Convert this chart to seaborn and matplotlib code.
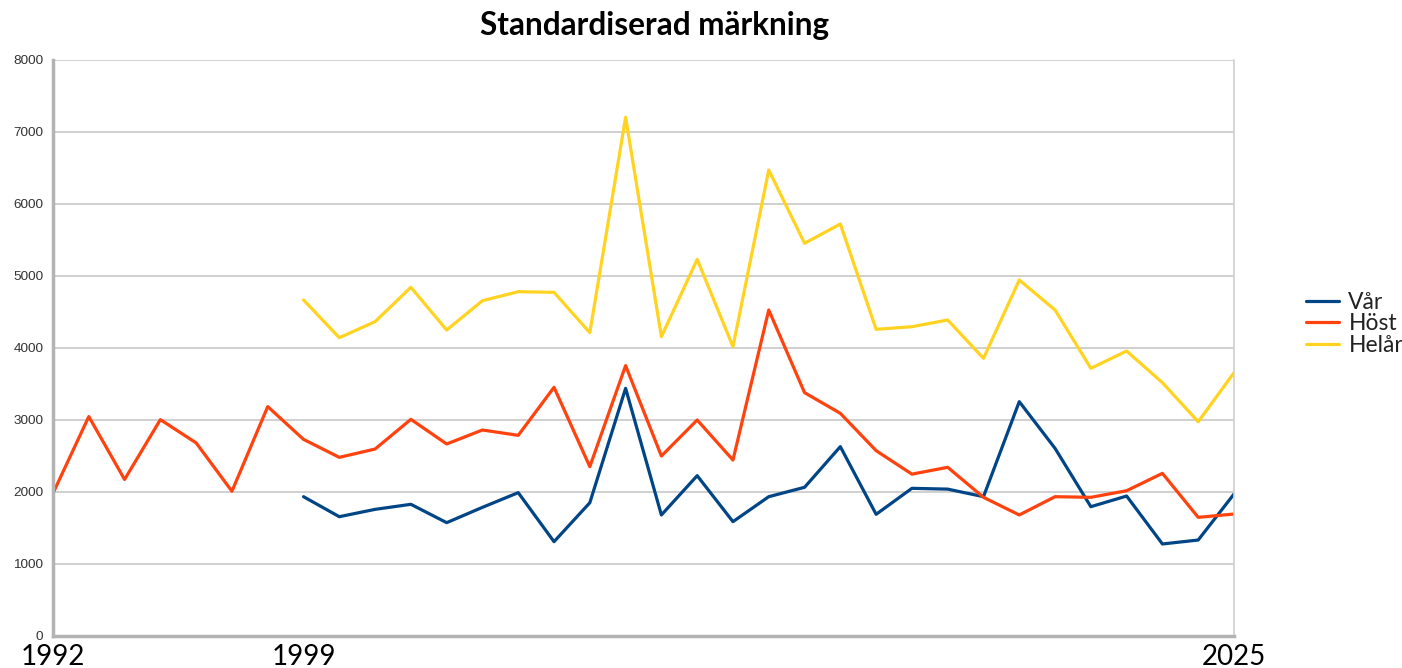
import numpy as np
import pandas as pd
import seaborn as sns
import matplotlib.pyplot as plt

# Years and values
years_host = list(range(1992, 2026))
years_var = list(range(1999, 2026))

var = [1935, 1657, 1759, 1829, 1574, 1787, 1991, 1310, 1851, 3440,
       1681, 2227, 1588, 1935, 2065, 2630, 1690, 2051, 2040, 1935,
       3255, 2606, 1796, 1944, 1278, 1333, 1972]
host = [1982, 3048, 2174, 3005, 2682, 2010, 3186,
        2731, 2481, 2597, 3009, 2667, 2861, 2787, 3454, 2352, 3755,
        2500, 3000, 2444, 4528, 3380, 3093, 2574, 2248, 2343, 1926,
        1681, 1935, 1926, 2018, 2259, 1648, 1694]
helar = [4667, 4143, 4366, 4843, 4250, 4657, 4782, 4773, 4213, 7204,
         4157, 5231, 4018, 6472, 5454, 5722, 4259, 4296, 4389, 3856,
         4944, 4528, 3718, 3958, 3518, 2976, 3657]

series = ["Vår", "Höst", "Helår"]
colors = ["#004586", "#ff420e", "#ffd320"]

df = pd.concat([
    pd.DataFrame({"year": years_var, "value": var, "serie": "Vår"}),
    pd.DataFrame({"year": years_host, "value": host, "serie": "Höst"}),
    pd.DataFrame({"year": years_var, "value": helar, "serie": "Helår"}),
])

sns.set_style("white")
plt.rcParams['font.family'] = ['Lato', 'DejaVu Sans']

fig = plt.figure(figsize=(14.02, 6.68), dpi=100)
ax = fig.add_axes([53 / 1402, 1 - 636 / 668, (1234 - 53) / 1402, 576 / 668])

sns.lineplot(data=df, x="year", y="value", hue="serie", hue_order=series,
             palette=colors, linewidth=2.3, ax=ax)

ax.set_xlim(1992, 2025)
ax.set_ylim(0, 8000)
ax.set_yticks(range(0, 8001, 1000))
ax.set_yticklabels([str(v) for v in range(0, 8001, 1000)],
                   fontsize=9.7, family='Liberation Sans', color="#333333")
ax.set_xticks(years_host)
ax.set_xticklabels([str(y) if y in (1992, 1999, 2025) else "" for y in years_host],
                   fontsize=20, color="black")
ax.tick_params(axis='x', length=6, width=1, color="#b3b3b3", pad=0)
ax.tick_params(axis='y', length=5, width=1, color="#b3b3b3", pad=2)
ax.grid(axis='y', color="#c8c8c8", linewidth=1.2)
ax.set_axisbelow(True)
for side in ["left", "bottom"]:
    ax.spines[side].set_color("#b3b3b3")
    ax.spines[side].set_linewidth(2.5)
ax.spines["right"].set_color("#d0d0d0")
ax.spines["right"].set_linewidth(1.2)
ax.spines["top"].set_visible(False)
ax.set_xlabel("")
ax.set_ylabel("")

fig.text(655 / 1402, 1 - 26 / 668, "Standardiserad märkning", fontsize=22.7,
         fontweight="bold", color="black", ha="center", va="center")

leg = ax.legend(loc="center left", bbox_to_anchor=(1306 / 1402, 1 - 324 / 668),
                bbox_transform=fig.transFigure, frameon=False, borderpad=0,
                borderaxespad=0, fontsize=16.5, handlelength=1.45,
                labelspacing=0.02, handletextpad=0.4)
for line in leg.get_lines():
    line.set_linewidth(2.3)
for t in leg.get_texts():
    t.set_color("#222222")

fig.savefig("out.png", dpi=100)
